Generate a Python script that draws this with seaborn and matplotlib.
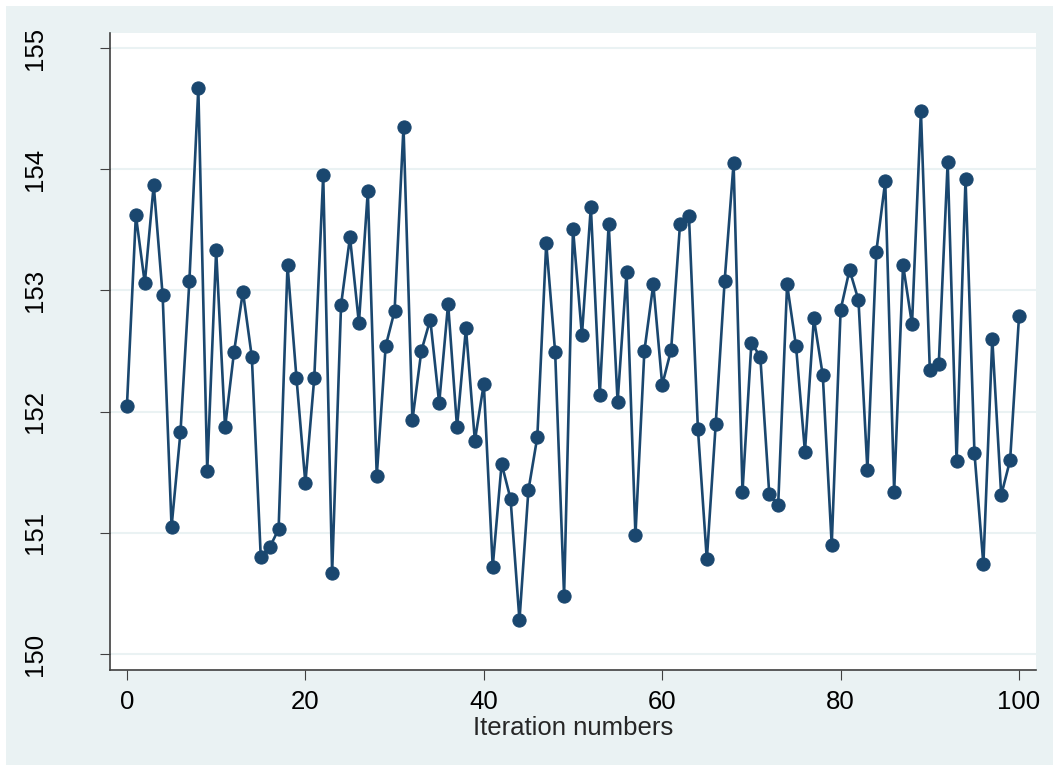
import numpy as np
import pandas as pd
import seaborn as sns
import matplotlib

matplotlib.use("Agg")
import matplotlib.pyplot as plt
from matplotlib.patches import Rectangle

iterations = list(range(101))
values = [
    152.05, 153.62, 153.06, 153.87, 152.96, 151.05, 151.83, 153.08, 154.67, 151.51,
    153.33, 151.87, 152.49, 152.99, 152.45, 150.80, 150.88, 151.03, 153.21, 152.28,
    151.41, 152.28, 153.95, 150.67, 152.88, 153.44, 152.73, 153.82, 151.47, 152.54,
    152.83, 154.35, 151.93, 152.50, 152.76, 152.07, 152.89, 151.87, 152.69, 151.76,
    152.23, 150.72, 151.57, 151.28, 150.28, 151.35, 151.79, 153.39, 152.49, 150.48,
    153.51, 152.63, 153.69, 152.14, 153.55, 152.08, 153.15, 150.98, 152.50, 153.05,
    152.22, 152.51, 153.55, 153.61, 151.86, 150.78, 151.90, 153.08, 154.05, 151.34,
    152.57, 152.45, 151.32, 151.23, 153.05, 152.54, 151.67, 152.77, 152.30, 150.90,
    152.84, 153.17, 152.92, 151.52, 153.32, 153.90, 151.34, 153.21, 152.72, 154.48,
    152.34, 152.39, 154.06, 151.59, 153.92, 151.66, 150.74, 152.60, 151.31, 151.60,
    152.79,
]
x_ticks = [0, 20, 40, 60, 80, 100]
y_ticks = [150, 151, 152, 153, 154, 155]

df = pd.DataFrame({"iter": iterations, "value": values})

bg = "#EAF2F3"
navy = "#1A476F"

sns.set_style("white")
plt.rcParams["font.family"] = ["Liberation Sans", "DejaVu Sans"]

W, H = 1059, 771
fig = plt.figure(figsize=(W / 100, H / 100), dpi=100, facecolor="white")
fig.patches.append(
    Rectangle((6 / W, 6 / H), (W - 12) / W, (H - 12) / H,
              transform=fig.transFigure, facecolor=bg, edgecolor="none", zorder=-10)
)
ax = fig.add_axes([110 / W, (H - 670) / H, (1036 - 110) / W, (670 - 33) / H])
ax.set_facecolor("white")

sns.lineplot(data=df, x="iter", y="value", ax=ax, color=navy, linewidth=1.9,
             marker="o", markersize=9.5, markeredgecolor=navy)

ax.set_xlim(-1.9, 101.9)
ax.set_ylim(149.868, 155.124)
ax.set_xticks(x_ticks)
ax.set_yticks(y_ticks)
ax.grid(axis="y", color=bg, linewidth=1.5)
ax.set_axisbelow(True)

for s in ["top", "right"]:
    ax.spines[s].set_visible(False)
for s in ["left", "bottom"]:
    ax.spines[s].set_color("#404040")
    ax.spines[s].set_linewidth(1.2)

ax.tick_params(axis="both", which="major", direction="out", length=7.5, width=0.8,
               color="#404040", labelsize=18.5, labelcolor="black")
ax.tick_params(axis="x", pad=7, bottom=True)
ax.tick_params(axis="y", pad=38, left=True)
for lbl in ax.get_yticklabels():
    lbl.set_rotation(90)
    lbl.set_va("center")

ax.set_xlabel("Iteration numbers", fontsize=18.5, labelpad=1)
ax.set_ylabel("")

fig.savefig("out.png", dpi=100, facecolor="white")
